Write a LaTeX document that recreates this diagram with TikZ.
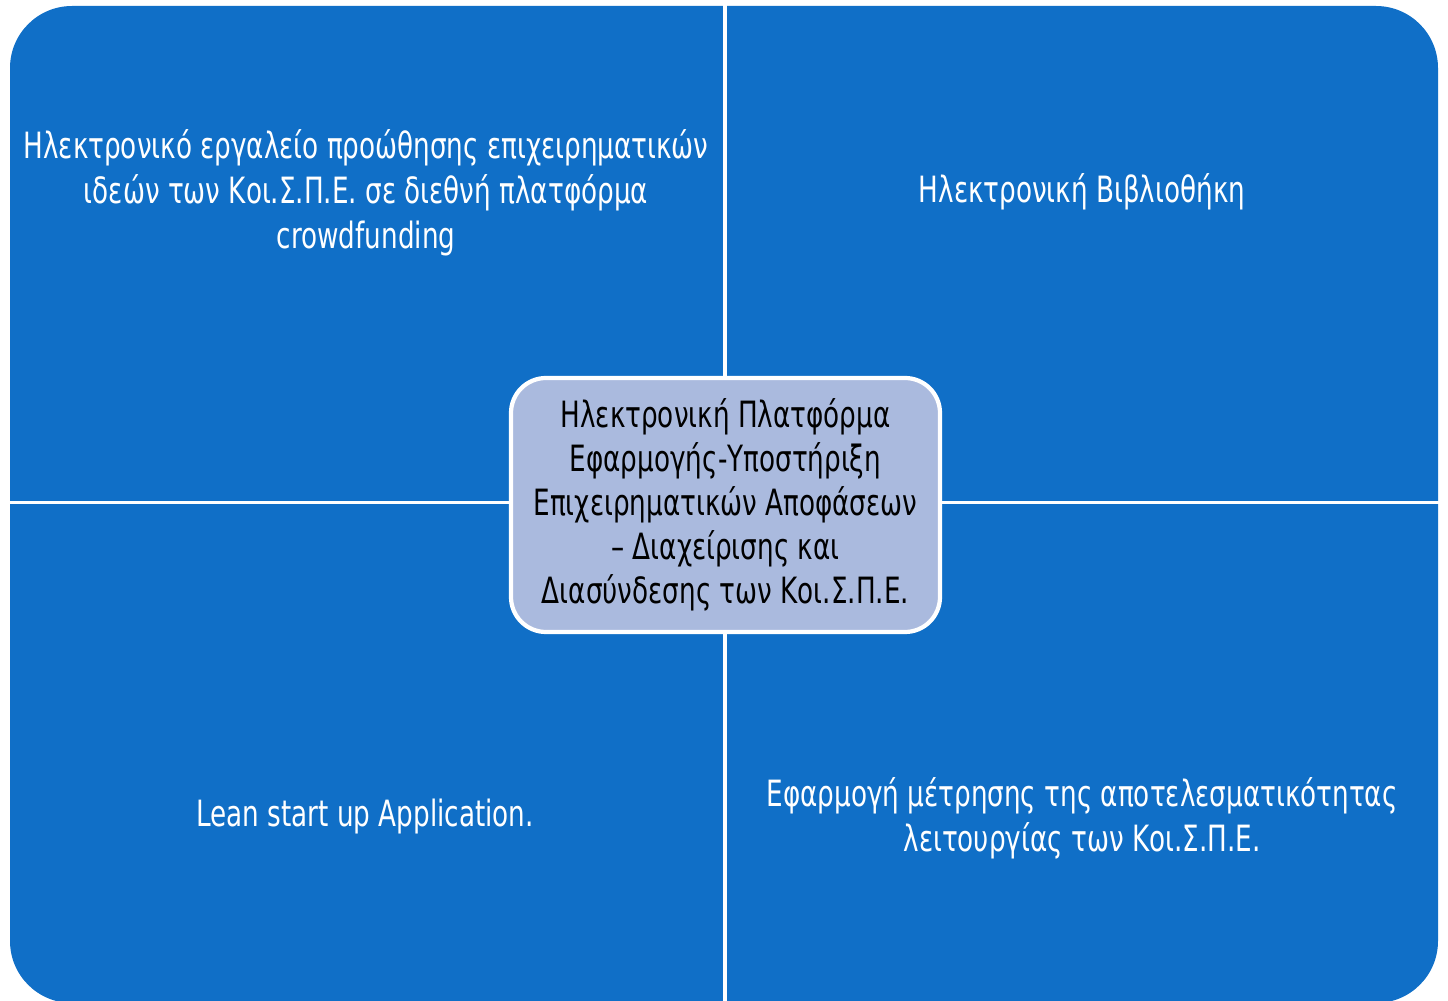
\documentclass[tikz,border=0pt]{standalone}
\usepackage{fontspec}
\setmainfont[FakeStretch=0.725]{DejaVu Sans}
\definecolor{quadblue}{RGB}{16,111,199}
\definecolor{hubfill}{RGB}{170,186,222}
\tikzset{
  quadtext/.style={text=white,align=center,font=\fontsize{10.3}{12.8}\selectfont},
  hubbox/.style={fill=hubfill,draw=white,line width=1.2pt,rounded corners=0.35cm,
    minimum width=4.29cm,minimum height=2.54cm,align=center,
    font=\fontsize{10.3}{12.5}\selectfont}
}
\begin{document}
\begin{tikzpicture}
  \useasboundingbox (0,0) rectangle (14.48,10.01);
  % four quadrants
  \fill[quadblue,rounded corners=0.62cm] (0.10,-0.02) rectangle (14.38,9.95);
  \draw[white,line width=0.95pt] (7.25,-0.1) -- (7.25,10.0);
  \draw[white,line width=0.95pt] (0.05,4.985) -- (14.43,4.985);
  \node[quadtext] (ideas) at (3.66,8.08) {Ηλεκτρονικό εργαλείο προώθησης επιχειρηματικών\\ιδεών των Κοι.Σ.Π.Ε. σε διεθνή πλατφόρμα\\crowdfunding};
  \node[quadtext] (library) at (10.82,8.09) {Ηλεκτρονική Βιβλιοθήκη};
  \node[quadtext] (lean) at (3.65,1.84) {Lean start up Application.};
  \node[quadtext] (measure) at (10.82,1.83) {Εφαρμογή μέτρησης της αποτελεσματικότητας\\λειτουργίας των Κοι.Σ.Π.Ε.};
  % centre
  \node[hubbox] (hub) at (7.255,4.96) {Ηλεκτρονική Πλατφόρμα\\Εφαρμογής-Υποστήριξη\\Επιχειρηματικών Αποφάσεων\\– Διαχείρισης και\\Διασύνδεσης των Κοι.Σ.Π.Ε.};
\end{tikzpicture}
\end{document}
